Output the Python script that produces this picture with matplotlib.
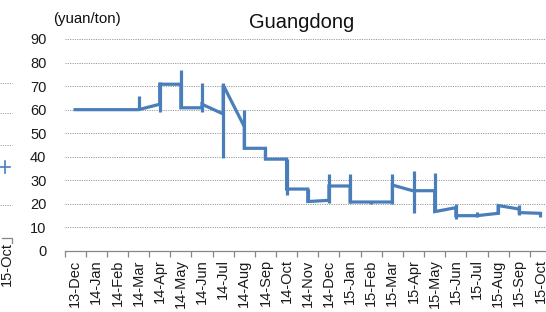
import matplotlib
matplotlib.use("Agg")
import matplotlib.pyplot as plt
from matplotlib.lines import Line2D
import numpy as np

plt.rcParams['font.family'] = ['Liberation Sans', 'DejaVu Sans']

months = ["13-Dec", "14-Jan", "14-Feb", "14-Mar", "14-Apr", "14-May", "14-Jun",
          "14-Jul", "14-Aug", "14-Sep", "14-Oct", "14-Nov", "14-Dec", "15-Jan",
          "15-Feb", "15-Mar", "15-Apr", "15-May", "15-Jun", "15-Jul", "15-Aug",
          "15-Sep", "15-Oct"]
# value arriving at each month, value leaving each month
open_vals = [60, 60, 60, 60, 62.3, 70.8, 60.8, 58.2, 52.8, 43.6, 39, 26.3, 21.5,
             27.6, 20.8, 20.8, 25.5, 25.6, 18.4, 15, 16, 17.8, 16]
close_vals = [60, 60, 60, 60, 70.8, 60.8, 62.3, 70.5, 43.6, 39, 26.3, 21, 27.6,
              20.8, 20.8, 28, 25.6, 16.7, 15, 15, 19.3, 16.3, 16]
high_vals = [60, 60, 60, 66, 71.7, 77, 71.2, 71.2, 59.8, 43.6, 39, 26.3, 32.7,
             32.7, 20.8, 32.7, 34.1, 33, 20, 16.6, 19.4, 19.5, 16.7]
low_vals = [60, 60, 60, 60, 59.1, 60.6, 59.1, 39.5, 43.2, 39, 23.8, 20.9, 20.2,
            20.5, 20, 20, 16, 16.7, 13.6, 14.6, 15.7, 15.1, 14.6]
yticks = [0, 10, 20, 30, 40, 50, 60, 70, 80, 90]

W, H = 546, 312
fig = plt.figure(figsize=(W / 100, H / 100), dpi=100)
left, right = 64.5 / W, 551 / W
bottom, top = 1 - 251 / H, 1 - 39 / H
ax = fig.add_axes([left, bottom, right - left, top - bottom])

blue = "#4a7ebb"
x = np.arange(len(months))
lx, ly = [], []
for i in x:
    lx += [i, i]
    ly += [open_vals[i], close_vals[i]]
ax.plot(lx, ly, color=blue, lw=2.3, solid_joinstyle='miter', zorder=3)
hl = [i for i in x if high_vals[i] != low_vals[i]]
ax.vlines(hl, [low_vals[i] for i in hl], [high_vals[i] for i in hl],
          color=blue, lw=2.3, zorder=3)

ax.set_xlim(-0.5, len(months) - 0.5)
ax.set_ylim(0, 90)
ax.set_yticks(yticks)
ax.set_yticklabels([str(v) for v in yticks], fontsize=10.5, color="#1a1a1a")
ax.tick_params(axis='y', length=0, pad=13)
ax.set_xticks(x)
ax.set_xticklabels(months, rotation=90, fontsize=10.5, color="#1a1a1a")
ax.set_xticks(np.arange(-0.5, len(months), 1), minor=True)
ax.tick_params(axis='x', which='major', length=0, pad=6)
ax.tick_params(axis='x', which='minor', length=4, color="#868686", width=0.9)
ax.grid(axis='y', color="#9a9a9a", linestyle=(0, (1.2, 1.2)), lw=0.7)
ax.set_axisbelow(True)
for s in ['top', 'right', 'left']:
    ax.spines[s].set_visible(False)
ax.spines['bottom'].set_color("#868686")
ax.spines['bottom'].set_linewidth(0.9)

fig.text(302 / W, 1 - 23 / H, "Guangdong", ha='center', va='center', fontsize=14.5, color="#111111")
fig.text(53 / W, 1 - 19 / H, "(yuan/ton)", ha='left', va='center', fontsize=10.8, color="#111111")

# fragments of neighbouring chart at left edge
for yy in [83, 113, 145, 205]:
    fig.add_artist(Line2D([0, 12 / W], [1 - yy / H] * 2, color="#a0a0a0", lw=0.7,
                          linestyle=(0, (1.2, 1.2))))
fig.add_artist(Line2D([0, 10 / W], [1 - 167 / H] * 2, color=blue, lw=1.2))
fig.add_artist(Line2D([5 / W, 5 / W], [1 - 161 / H, 1 - 173 / H], color=blue, lw=1.2))
fig.text(7 / W, 1 - 264 / H, "15-Oct", rotation=90, ha='center', va='center', fontsize=10.5, color="#1a1a1a")
fig.add_artist(Line2D([2 / W, 12 / W, 12 / W], [1 - 238 / H, 1 - 238 / H, 1 - 243 / H],
                      color="#868686", lw=0.9))

fig.savefig("out.png", dpi=100)
